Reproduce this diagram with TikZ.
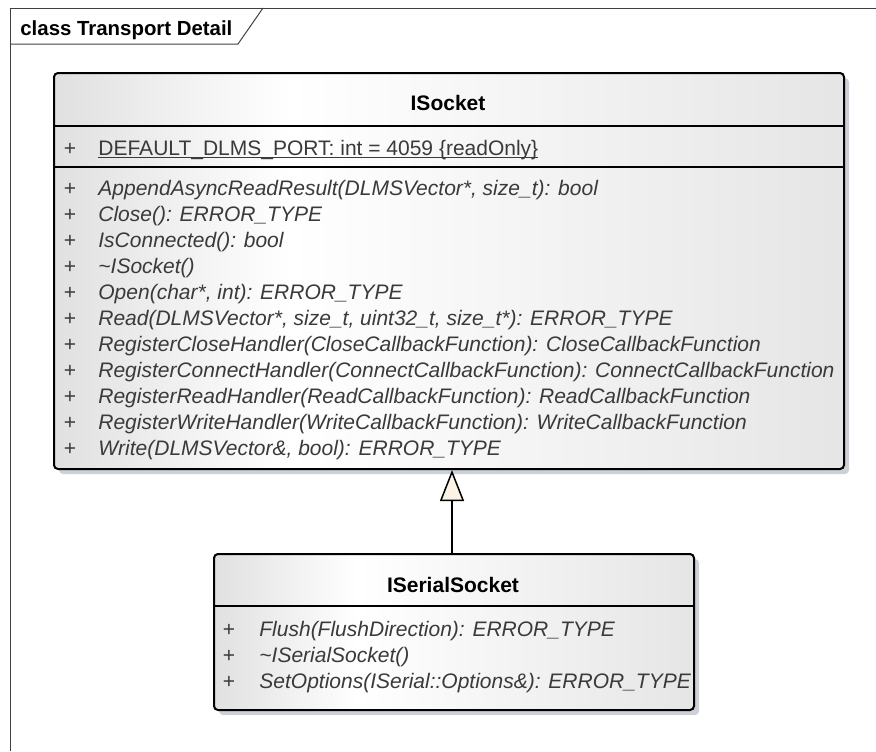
\documentclass[tikz,border=0pt]{standalone}
\usepackage{fontspec}
\setmainfont{Liberation Sans}
\usetikzlibrary{arrows.meta,shadows}

\definecolor{shadowgray}{RGB}{204,208,215}
\definecolor{cream}{RGB}{251,243,230}
\definecolor{textgray}{RGB}{58,58,58}
\pgfdeclarehorizontalshading{classfill}{100bp}{color(0bp)=(black!12); color(25bp)=(black!12); color(40bp)=(white); color(75bp)=(black!10); color(100bp)=(black!10)}

\begin{document}
\begin{tikzpicture}[x=0.5pt, y=-0.5pt,
  classbox/.style = {draw, line width=1pt, rounded corners=2pt, shading=classfill, inner sep=0pt, anchor=north west,
    general shadow={fill=shadowgray, shadow xshift=2.5pt, shadow yshift=-2.5pt}},
  title/.style = {font=\bfseries\fontsize{10.5}{12}\selectfont, inner sep=0pt, anchor=base},
  vis/.style = {font=\fontsize{10.5}{12}\selectfont, text=textgray, inner sep=0pt, anchor=base},
  op/.style = {font=\itshape\fontsize{10.5}{12}\selectfont, text=textgray, inner sep=0pt, anchor=base west},
  sep/.style = {line width=0.75pt}]
\useasboundingbox (0,0) rectangle (876,751);

% frame
\draw[line width=0.5pt, black!75] (10,751) -- (10,8) -- (876,8);
\draw[line width=0.5pt, black!75] (10,44) -- (238,44) -- (263,8);
\node[title, anchor=base west, text=black, font=\bfseries\fontsize{10.2}{12}\selectfont] (frame) at (20,35) {class Transport Detail};

% ISocket
\node[classbox, minimum width=395pt, minimum height=198pt] (isocket) at (53,72) {};
\node[title] (isockettitle) at (448,110) {ISocket};
\draw[sep] (53,126) -- (843,126);
\node[vis] (attrplus) at (70,155) {+};
\node[vis, anchor=base west] (attr) at (98,155) {\underline{\smash{DEFAULT\_DLMS\_PORT: int = 4059 \{readOnly\}}}};
\draw[sep] (53,167) -- (843,167);
\node[vis] (p1) at (70,195) {+};
\node[op] (o1) at (98,195) {AppendAsyncReadResult(DLMSVector*, size\_t): bool};
\node[vis] (p2) at (70,221) {+};
\node[op] (o2) at (98,221) {Close(): ERROR\_TYPE};
\node[vis] (p3) at (70,247) {+};
\node[op] (o3) at (98,247) {IsConnected(): bool};
\node[vis] (p4) at (70,273) {+};
\node[op] (o4) at (98,273) {\textasciitilde ISocket()};
\node[vis] (p5) at (70,299) {+};
\node[op] (o5) at (98,299) {Open(char*, int): ERROR\_TYPE};
\node[vis] (p6) at (70,325) {+};
\node[op] (o6) at (98,325) {Read(DLMSVector*, size\_t, uint32\_t, size\_t*): ERROR\_TYPE};
\node[vis] (p7) at (70,351) {+};
\node[op] (o7) at (98,351) {RegisterCloseHandler(CloseCallbackFunction): CloseCallbackFunction};
\node[vis] (p8) at (70,377) {+};
\node[op] (o8) at (98,377) {RegisterConnectHandler(ConnectCallbackFunction): ConnectCallbackFunction};
\node[vis] (p9) at (70,403) {+};
\node[op] (o9) at (98,403) {RegisterReadHandler(ReadCallbackFunction): ReadCallbackFunction};
\node[vis] (p10) at (70,429) {+};
\node[op] (o10) at (98,429) {RegisterWriteHandler(WriteCallbackFunction): WriteCallbackFunction};
\node[vis] (p11) at (70,455) {+};
\node[op] (o11) at (98,455) {Write(DLMSVector\&, bool): ERROR\_TYPE};

% ISerialSocket
\node[classbox, minimum width=240pt, minimum height=78pt] (iserial) at (213,553) {};
\node[title] (iserialtitle) at (453,592) {ISerialSocket};
\draw[sep] (213,606) -- (693,606);
\node[vis] (q1) at (229,636) {+};
\node[op] (s1) at (259,636) {Flush(FlushDirection): ERROR\_TYPE};
\node[vis] (q2) at (229,662) {+};
\node[op] (s2) at (259,662) {\textasciitilde ISerialSocket()};
\node[vis] (q3) at (229,688) {+};
\node[op] (s3) at (259,688) {SetOptions(ISerial::Options\&): ERROR\_TYPE};

% generalization
\draw[line width=0.75pt, -{Triangle[length=15.5pt, width=12pt, fill=cream]}] ([xshift=-1pt]iserial.north) -- ([xshift=-1pt]iserial.north |- isocket.south);
\end{tikzpicture}
\end{document}
